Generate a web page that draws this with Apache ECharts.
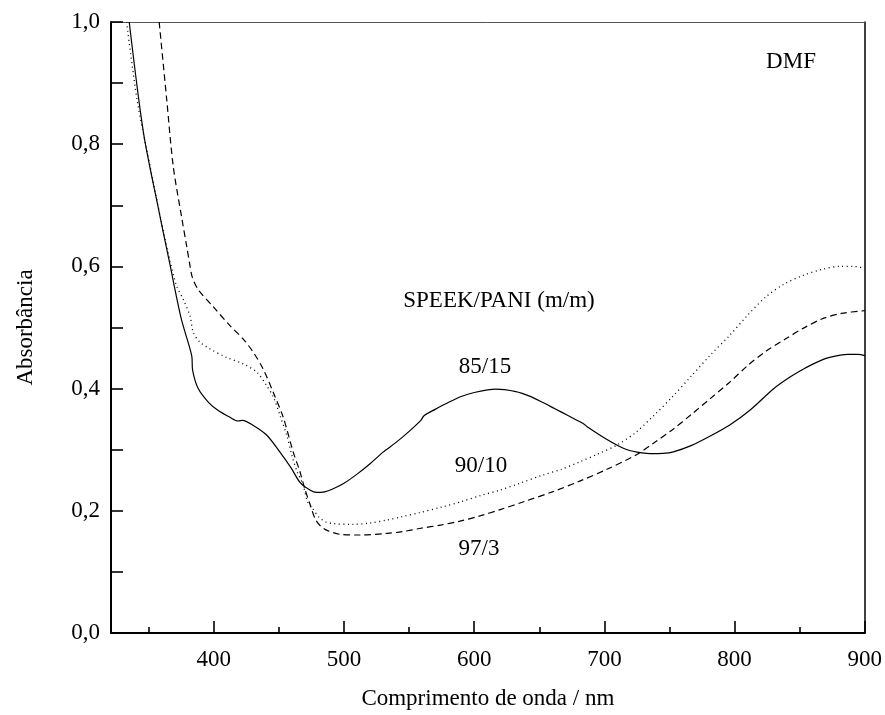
<!DOCTYPE html>
<html>
<head>
<meta charset="utf-8">
<script src="https://cdn.jsdelivr.net/npm/echarts@6/dist/echarts.min.js"></script>
<style>
html,body{margin:0;padding:0;background:#ffffff;}
#chart{width:885px;height:715px;}
</style>
</head>
<body>
<div id="chart"></div>
<script>
// ---- data ----
const xMajorTicks = [400, 500, 600, 700, 800, 900];
const xMinorTicks = [350, 450, 550, 650, 750, 850];

// SPEEK/PANI 85/15 (solid)
const wl85 = [335, 346, 357, 366, 375, 383, 383.7, 388, 395.7, 403.4, 412.4, 418.7, 422, 430, 440.5, 450.8, 459.7, 466, 473.8, 479, 485, 491.7, 500, 510, 520, 530, 540, 550, 559, 561.6, 570, 580.8, 590, 600.8, 616.5, 632, 642, 652, 662, 672, 680, 685, 686.5, 701, 715, 725, 735, 745, 753, 767, 781, 796, 812, 830, 842, 853, 863, 873, 887, 895, 900];
const abs85 = [1.000, 0.818, 0.699, 0.606, 0.514, 0.454, 0.430, 0.400, 0.378, 0.364, 0.353, 0.347, 0.348, 0.340, 0.324, 0.296, 0.269, 0.247, 0.234, 0.230, 0.231, 0.236, 0.245, 0.260, 0.277, 0.296, 0.312, 0.330, 0.348, 0.356, 0.366, 0.378, 0.387, 0.394, 0.399, 0.395, 0.388, 0.378, 0.367, 0.356, 0.347, 0.341, 0.338, 0.318, 0.302, 0.296, 0.2936, 0.294, 0.2964, 0.307, 0.322, 0.340, 0.365, 0.3997, 0.418, 0.432, 0.443, 0.451, 0.456, 0.456, 0.454];

// SPEEK/PANI 90/10 (dotted)
const wl90 = [333, 341, 351, 359, 366, 371.4, 376.5, 381.7, 384.2, 389.3, 397, 409.8, 422.6, 432.9, 440.5, 446, 451, 456, 460, 464, 468.6, 472, 476, 481, 486, 492, 507, 520, 533, 545, 558, 575, 590, 605, 620, 635, 652, 667, 681, 695, 710, 724, 738, 752, 767, 781, 796, 810, 824, 838, 853, 867, 881, 891, 900];
const abs90 = [1.000, 0.873, 0.764, 0.680, 0.612, 0.568, 0.546, 0.519, 0.492, 0.476, 0.465, 0.451, 0.4405, 0.427, 0.405, 0.385, 0.355, 0.3235, 0.290, 0.264, 0.242, 0.215, 0.203, 0.189, 0.182, 0.179, 0.1778, 0.1800, 0.1850, 0.1905, 0.197, 0.206, 0.215, 0.225, 0.234, 0.245, 0.258, 0.268, 0.280, 0.293, 0.308, 0.328, 0.356, 0.386, 0.421, 0.454, 0.4866, 0.520, 0.550, 0.571, 0.5855, 0.595, 0.600, 0.600, 0.597];

// SPEEK/PANI 97/3 (dashed)
const wl97 = [358, 363.8, 368.8, 375.3, 379.1, 381.7, 383.5, 388, 399.5, 412.4, 422.6, 430.3, 437.9, 445.6, 453.3, 461, 466, 470, 474, 478, 482, 487, 497, 512, 533, 545, 558, 575, 589, 605, 620, 638, 660, 681, 702, 724, 738, 753, 767, 781, 796, 810, 824, 839, 853, 867, 882, 900];
const abs97 = [1.000, 0.873, 0.764, 0.680, 0.6335, 0.601, 0.582, 0.562, 0.534, 0.503, 0.481, 0.4595, 0.432, 0.394, 0.353, 0.296, 0.265, 0.235, 0.210, 0.186, 0.175, 0.168, 0.1615, 0.1604, 0.163, 0.166, 0.171, 0.177, 0.183, 0.192, 0.202, 0.2148, 0.231, 0.2485, 0.268, 0.291, 0.311, 0.334, 0.358, 0.383, 0.410, 0.4377, 0.461, 0.481, 0.499, 0.514, 0.523, 0.5275];

const seriesNames = ['85/15', '90/10', '97/3'];
const labelTexts = {
  solvent: 'DMF',
  title: 'SPEEK/PANI (m/m)',
  xName: 'Comprimento de onda / nm',
  yName: 'Absorbância'
};

function zip(xs, ys) { return xs.map((x, i) => [x, ys[i]]); }

const FONT = '"Liberation Serif", "DejaVu Serif", serif';
const FS = 23;

const chart = echarts.init(document.getElementById('chart'), null, {renderer: 'canvas'});

const baseLine = {smooth: 0.3, symbol: 'none', silent: true, clip: true};

chart.setOption({
  animation: false,
  backgroundColor: '#ffffff',
  grid: {left: 111, right: 20, top: 22, bottom: 80, containLabel: false},
  xAxis: [
    {
      type: 'value', min: 321, max: 900, position: 'bottom',
      name: labelTexts.xName, nameLocation: 'middle', nameGap: 54,
      nameTextStyle: {fontFamily: FONT, fontSize: FS, color: '#000'},
      axisLine: {show: true, onZero: false, lineStyle: {color: '#000', width: 2}},
      axisTick: {show: true, inside: true, length: 12, lineStyle: {color: '#000', width: 1.6}, customValues: xMajorTicks},
      axisLabel: {show: true, margin: 15, fontFamily: FONT, fontSize: FS, color: '#000', customValues: xMajorTicks},
      splitLine: {show: false}
    },
    {
      type: 'value', min: 321, max: 900, position: 'bottom',
      axisLine: {show: false},
      axisTick: {show: true, inside: true, length: 6, lineStyle: {color: '#000', width: 1.6}, customValues: xMinorTicks},
      axisLabel: {show: false},
      splitLine: {show: false}
    },
    {
      type: 'value', min: 321, max: 900, position: 'top',
      axisLine: {show: true, onZero: false, lineStyle: {color: '#555', width: 1}},
      axisTick: {show: false}, axisLabel: {show: false}, splitLine: {show: false}
    }
  ],
  yAxis: [
    {
      type: 'value', min: 0, max: 1, interval: 0.2, position: 'left',
      name: labelTexts.yName, nameLocation: 'middle', nameGap: 74, nameRotate: 90,
      nameTextStyle: {fontFamily: FONT, fontSize: FS, color: '#000'},
      axisLine: {show: true, onZero: false, lineStyle: {color: '#000', width: 2}},
      axisTick: {show: true, inside: true, length: 12, lineStyle: {color: '#000', width: 1.6}},
      minorTick: {show: true, splitNumber: 2, length: 12, lineStyle: {color: '#000', width: 1.6}},
      axisLabel: {
        show: true, margin: 11, fontFamily: FONT, fontSize: FS, color: '#000',
        formatter: v => v.toFixed(1).replace('.', ',')
      },
      splitLine: {show: false}, minorSplitLine: {show: false}
    },
    {
      type: 'value', min: 0, max: 1, position: 'right',
      axisLine: {show: true, onZero: false, lineStyle: {color: '#000', width: 1.5}},
      axisTick: {show: false}, axisLabel: {show: false}, splitLine: {show: false}
    }
  ],
  series: [
    Object.assign({}, baseLine, {
      name: seriesNames[0], type: 'line', xAxisIndex: 0, yAxisIndex: 0,
      data: zip(wl85, abs85),
      lineStyle: {color: '#000', width: 1.2, type: 'solid'}
    }),
    Object.assign({}, baseLine, {
      name: seriesNames[1], type: 'line', xAxisIndex: 0, yAxisIndex: 0,
      data: zip(wl90, abs90),
      lineStyle: {color: '#000', width: 1.3, type: [1, 3.5]}
    }),
    Object.assign({}, baseLine, {
      name: seriesNames[2], type: 'line', xAxisIndex: 0, yAxisIndex: 0,
      data: zip(wl97, abs97),
      lineStyle: {color: '#000', width: 1.2, type: [6.5, 4]}
    })
  ],
  graphic: [
    {type: 'text', x: 791, y: 62, style: {text: labelTexts.solvent, font: FS + 'px ' + FONT, fill: '#000', textAlign: 'center', textVerticalAlign: 'middle'}},
    {type: 'text', x: 499, y: 301, style: {text: labelTexts.title, font: FS + 'px ' + FONT, fill: '#000', textAlign: 'center', textVerticalAlign: 'middle'}},
    {type: 'text', x: 485, y: 367, style: {text: seriesNames[0], font: FS + 'px ' + FONT, fill: '#000', textAlign: 'center', textVerticalAlign: 'middle'}},
    {type: 'text', x: 481, y: 466, style: {text: seriesNames[1], font: FS + 'px ' + FONT, fill: '#000', textAlign: 'center', textVerticalAlign: 'middle'}},
    {type: 'text', x: 479, y: 549, style: {text: seriesNames[2], font: FS + 'px ' + FONT, fill: '#000', textAlign: 'center', textVerticalAlign: 'middle'}}
  ]
});
</script>
</body>
</html>
